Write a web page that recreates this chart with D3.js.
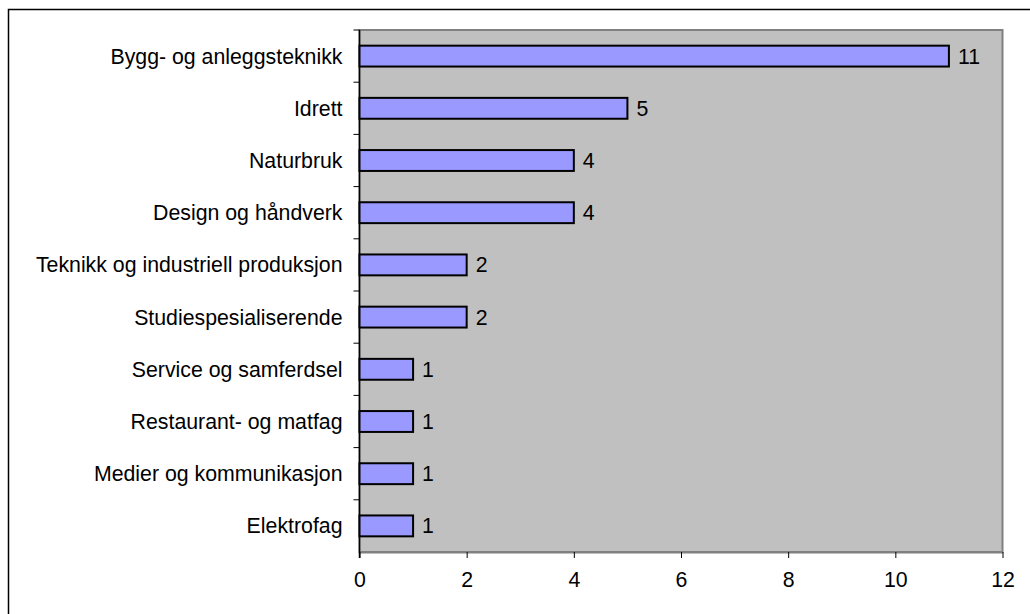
<!DOCTYPE html>
<html>
<head>
<meta charset="utf-8">
<script src="https://cdn.jsdelivr.net/npm/d3@7"></script>
<style>
  body { margin: 0; background: #fff; }
  svg text { font-family: "Liberation Sans", Arial, sans-serif; fill: #000; }
</style>
</head>
<body>
<div id="chart-area"></div>
<script>
var categories = [
    "Bygg- og anleggsteknikk",
    "Idrett",
    "Naturbruk",
    "Design og håndverk",
    "Teknikk og industriell produksjon",
    "Studiespesialiserende ",
    "Service og samferdsel",
    "Restaurant- og matfag",
    "Medier og kommunikasjon",
    "Elektrofag"
]
var values = [11, 5, 4, 4, 2, 2, 1, 1, 1, 1]
var xTicks = [0, 2, 4, 6, 8, 10, 12]

var svgWidth = 1030, svgHeight = 614
var margin = { top: 30, right: 27.5, bottom: 62, left: 359.5 }
var chartWidth = svgWidth - margin.left - margin.right
var chartHeight = svgHeight - margin.top - margin.bottom
var fontSize = "21.3px"

var svg = d3.select("#chart-area").append("svg")
    .attr("width", svgWidth)
    .attr("height", svgHeight)

// outer frame
svg.append("rect")
    .attr("x", 8.5).attr("y", 9.5)
    .attr("width", 1040).attr("height", 620)
    .attr("fill", "none")
    .attr("stroke", "#000")
    .attr("stroke-width", 1.5)

var chartGroup = svg.append("g")
    .attr("transform", `translate(${margin.left},${margin.top})`)

var xScale = d3.scaleLinear().domain([0, 12]).range([0, chartWidth])
var yScale = d3.scaleBand().domain(categories).range([0, chartHeight]).paddingInner(0.6).paddingOuter(0.3)

chartGroup.append("rect")
    .attr("width", chartWidth).attr("height", chartHeight)
    .attr("fill", "#c0c0c0")
    .attr("stroke", "#808080")
    .attr("stroke-width", 2)

// x axis
var xAxis = chartGroup.append("g")
    .attr("transform", `translate(0,${chartHeight})`)
    .call(d3.axisBottom(xScale).tickValues(xTicks).tickSize(6).tickSizeOuter(0).tickPadding(14))
xAxis.select(".domain").attr("stroke", "#808080").attr("stroke-width", 2)
xAxis.selectAll(".tick line").attr("stroke", "#000")
xAxis.selectAll("text").attr("font-size", fontSize).attr("font-family", "Liberation Sans, Arial, sans-serif")

// y axis: ticks between categories
var step = chartHeight / categories.length
var yAxis = chartGroup.append("g")
yAxis.append("line")
    .attr("x1", 0).attr("x2", 0).attr("y1", 0).attr("y2", chartHeight + 6)
    .attr("stroke", "#000").attr("stroke-width", 1.5)
yAxis.selectAll(".ytick")
    .data(d3.range(categories.length))
    .enter().append("line")
    .attr("class", "ytick")
    .attr("x1", -6).attr("x2", 0)
    .attr("y1", d => d * step).attr("y2", d => d * step)
    .attr("stroke", "#000")

yAxis.selectAll(".ylabel")
    .data(categories)
    .enter().append("text")
    .attr("class", "ylabel")
    .attr("x", -17)
    .attr("y", d => yScale(d) + yScale.bandwidth() / 2)
    .attr("dy", "0.35em")
    .attr("text-anchor", "end")
    .attr("font-size", fontSize)
    .text(d => d)

chartGroup.selectAll(".bar")
    .data(values)
    .enter().append("rect")
    .attr("class", "bar")
    .attr("x", 0)
    .attr("y", (d, i) => yScale(categories[i]))
    .attr("width", d => xScale(d))
    .attr("height", yScale.bandwidth())
    .attr("fill", "#9999ff")
    .attr("stroke", "#000")
    .attr("stroke-width", 2)

chartGroup.selectAll(".bar-text")
    .data(values)
    .enter().append("text")
    .attr("class", "bar-text")
    .attr("x", d => xScale(d) + 9)
    .attr("y", (d, i) => yScale(categories[i]) + yScale.bandwidth() / 2)
    .attr("dy", "0.35em")
    .attr("font-size", fontSize)
    .text(d => d)
</script>
</body>
</html>
